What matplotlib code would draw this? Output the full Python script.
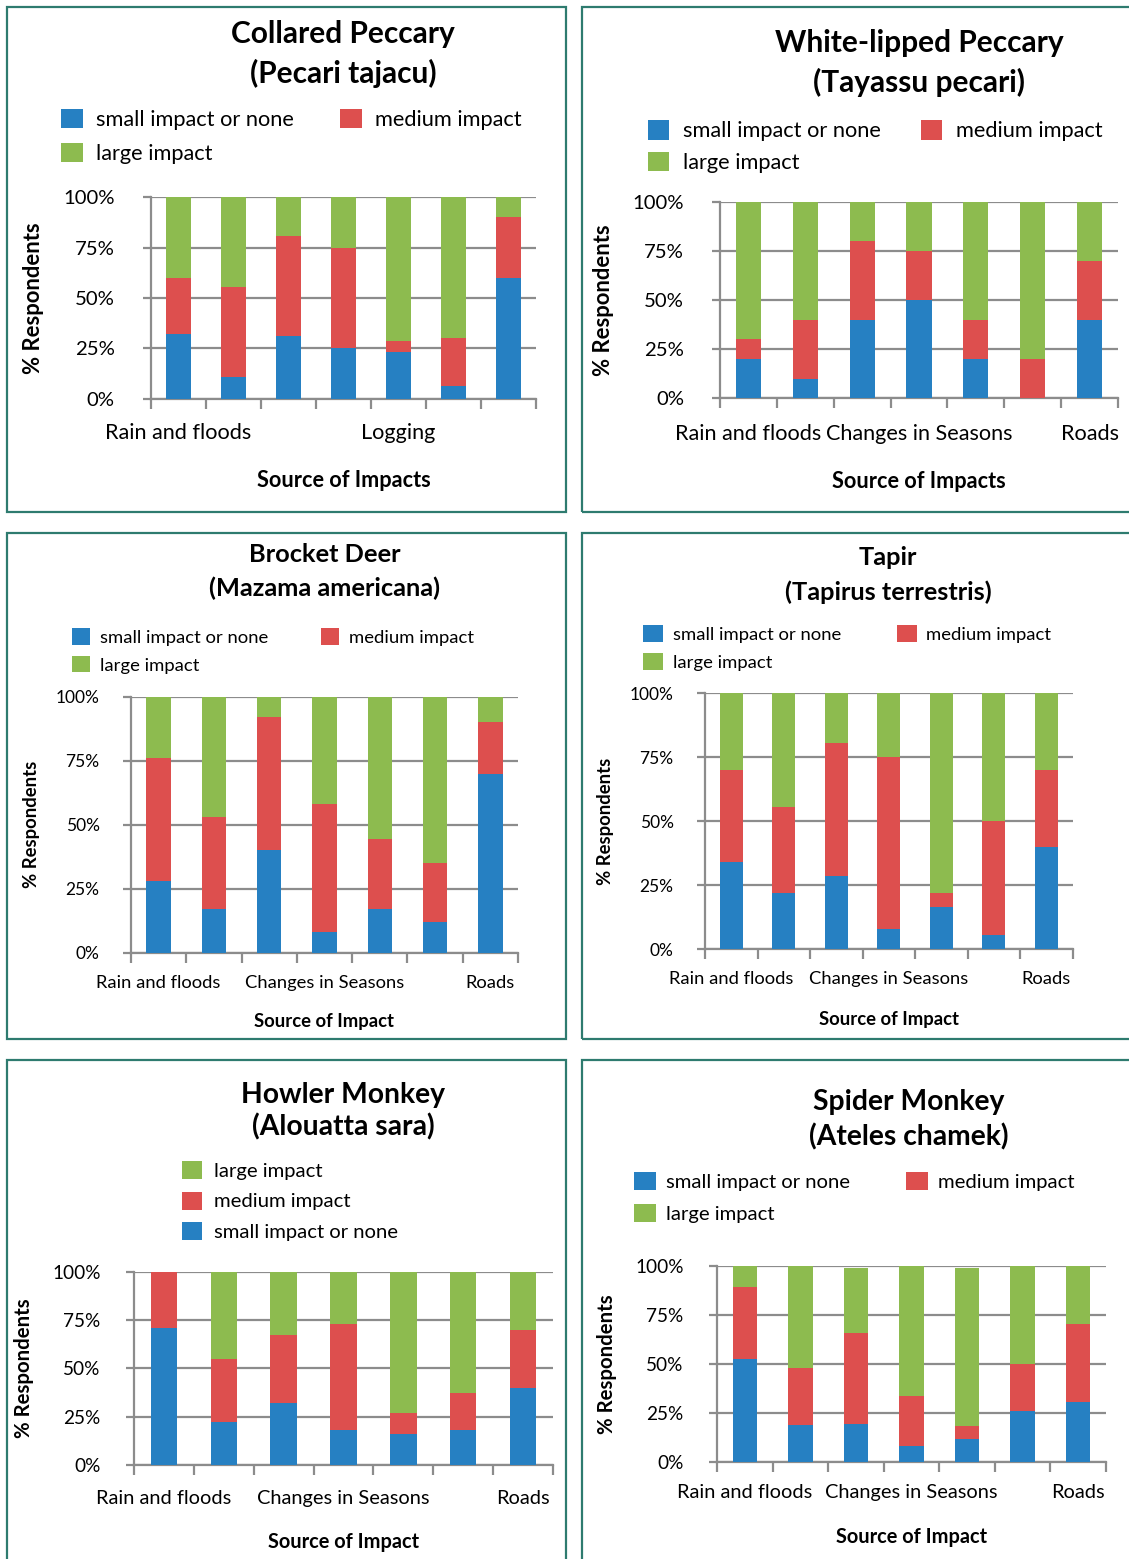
import numpy as np
import matplotlib
matplotlib.use("Agg")
import matplotlib.pyplot as plt
from matplotlib.patches import Rectangle

# Survey results: % of respondents per impact level, 7 impact sources
category_names = ["Rain and floods", "", "", "Changes in Seasons", "Logging", "", "Roads"]

collared_small = [32, 11, 31, 25, 23, 6.5, 60]
collared_medium = [28, 44.5, 50, 50, 5.5, 23.5, 30]
collared_large = [40, 44.5, 19, 25, 71.5, 70, 10]

whitelipped_small = [20, 10, 40, 50, 20, 0, 40]
whitelipped_medium = [10, 30, 40, 25, 20, 20, 30]
whitelipped_large = [70, 60, 20, 25, 60, 80, 30]

brocket_small = [28, 17, 40, 8, 17, 12, 70]
brocket_medium = [48, 36, 52, 50, 27.5, 23, 20]
brocket_large = [24, 47, 8, 42, 55.5, 65, 10]

tapir_small = [34, 22, 28.5, 8, 16.5, 5.5, 40]
tapir_medium = [36, 33.5, 52, 67, 5.5, 44.5, 30]
tapir_large = [30, 44.5, 19.5, 25, 78, 50, 30]

howler_small = [71, 22, 32, 18, 16, 18, 40]
howler_medium = [29, 33, 35.5, 55, 11, 19.5, 30]
howler_large = [0, 45, 32.5, 27, 73, 62.5, 30]

spider_small = [52.5, 18.5, 19, 8, 11.5, 26, 30.5]
spider_medium = [36.5, 29.5, 46.5, 25.5, 6.5, 24, 40]
spider_large = [11, 52, 33.5, 66.5, 81, 50, 29.5]

BLUE, RED, GREEN = "#2680C2", "#DD4F4E", "#8DBB4F"
GRID = "#8C8C8C"
FRAME = "#2E7B6F"

W, H = 1129, 1559
plt.rcParams["font.family"] = ["Lato", "DejaVu Sans"]
fig = plt.figure(figsize=(W / 100, H / 100), dpi=100)


def fx(x):
    return x / W


def fy(y):
    return 1 - y / H


# font size groups (pt): title, legend, xtick, ytick, xtitle, ylabel
BIG = dict(title=21.5, legend=15.7, xtick=15.6, ytick=14.6, xtitle=15.6, ylabel=15.8)
MID = dict(title=20.3, legend=14.6, xtick=14.4, ytick=13.7, xtitle=14.4, ylabel=14.7)
SMALL = dict(title=18.3, legend=13.3, xtick=13.2, ytick=12.5, xtitle=13.3, ylabel=13.3)

panels = [
    dict(title=("Collared Peccary", "(Pecari tajacu)"), small=collared_small,
         medium=collared_medium, large=collared_large, shown=[0, 4],
         xtitle="Source of Impacts", fs=BIG,
         frame=(7, 7, 566, 512), axes=(151, 197.3, 536, 398.7),
         title_x=343, title_y=(34, 73),
         leg=dict(x=61, y=136.5, pitch=33, w=22, h=21, pad=13, gap=46, ncol=2),
         ypad=28, xpad=24, xtitle_y=470, ylabel_x=44),
    dict(title=("White-lipped Peccary", "(Tayassu pecari)"), small=whitelipped_small,
         medium=whitelipped_medium, large=whitelipped_large, shown=[0, 3, 6],
         xtitle="Source of Impacts", fs=BIG,
         frame=(582, 7, 1140, 512), axes=(720, 201.7, 1118, 398.3),
         title_x=919, title_y=(43, 82),
         leg=dict(x=648, y=146.5, pitch=31, w=21, h=22, pad=14, gap=40, ncol=2),
         ypad=27.6, xpad=25.7, xtitle_y=471, ylabel_x=614),
    dict(title=("Brocket Deer", "(Mazama americana)"), small=brocket_small,
         medium=brocket_medium, large=brocket_large, shown=[0, 3, 6],
         xtitle="Source of Impact", fs=SMALL,
         frame=(7, 533, 566, 1039), axes=(131, 696.7, 518, 952.7),
         title_x=324.5, title_y=(555, 588),
         leg=dict(x=72, y=651, pitch=28, w=18, h=18, pad=10, gap=53, ncol=2),
         ypad=23, xpad=22, xtitle_y=1013, ylabel_x=39.5),
    dict(title=("Tapir", "(Tapirus terrestris)"), small=tapir_small,
         medium=tapir_medium, large=tapir_large, shown=[0, 3, 6],
         xtitle="Source of Impact", fs=SMALL,
         frame=(582, 533, 1140, 1039), axes=(705, 693.3, 1072.5, 949.3),
         title_x=888, title_y=(558, 592),
         leg=dict(x=643, y=648, pitch=28, w=20, h=19, pad=9.6, gap=56, ncol=2),
         ypad=23, xpad=21.4, xtitle_y=1011, ylabel_x=614),
    dict(title=("Howler Monkey", "(Alouatta sara)"), small=howler_small,
         medium=howler_medium, large=howler_large, shown=[0, 3, 6],
         xtitle="Source of Impact", fs=MID,
         frame=(7, 1060, 566, 1570), axes=(134, 1271.7, 553, 1465),
         title_x=343, title_y=(1095, 1127),
         leg=dict(x=182, y=1201, pitch=30.5, w=20, h=20, pad=12.5, gap=0, ncol=1),
         ypad=25, xpad=25, xtitle_y=1532, ylabel_x=33.5),
    dict(title=("Spider Monkey", "(Ateles chamek)"), small=spider_small,
         medium=spider_medium, large=spider_large, shown=[0, 3, 6],
         xtitle="Source of Impact", fs=MID,
         frame=(582, 1060, 1140, 1570), axes=(717, 1265.7, 1105.7, 1461.7),
         title_x=909, title_y=(1102, 1137),
         leg=dict(x=634, y=1197.5, pitch=31.7, w=21.5, h=20, pad=10.5, gap=56, ncol=2),
         ypad=25, xpad=22.3, xtitle_y=1527, ylabel_x=617),
]

for p in panels:
    fs = p["fs"]

    # panel frame
    x0, y0, x1, y1 = p["frame"]
    fig.add_artist(Rectangle((fx(x0), fy(y1)), (x1 - x0) / W, (y1 - y0) / H,
                             transform=fig.transFigure, fill=False,
                             edgecolor=FRAME, lw=1.6))

    # title, two lines
    for line, ty in zip(p["title"], p["title_y"]):
        fig.text(fx(p["title_x"]), fy(ty), line, ha="center", va="center",
                 fontsize=fs["title"], fontweight="bold")

    l, t, r, b = p["axes"]
    ax = fig.add_axes([fx(l), fy(b), (r - l) / W, (b - t) / H])
    x = np.arange(len(category_names))
    small = np.array(p["small"])
    medium = np.array(p["medium"])
    large = np.array(p["large"])
    bw = 0.44
    h_small = ax.bar(x, small, bw, color=BLUE, label="small impact or none", zorder=3)
    h_medium = ax.bar(x, medium, bw, bottom=small, color=RED, label="medium impact", zorder=3)
    h_large = ax.bar(x, large, bw, bottom=small + medium, color=GREEN, label="large impact", zorder=3)

    ax.set_xlim(-0.5, len(x) - 0.5)
    ax.set_ylim(0, 100)
    ax.set_yticks([0, 25, 50, 75, 100])
    ax.set_yticklabels(["0%", "25%", "50%", "75%", "100%"])
    ax.grid(axis="y", color=GRID, lw=1.6, zorder=0)
    ax.set_axisbelow(True)
    for s in ["top", "right"]:
        ax.spines[s].set_visible(False)
    for s in ["left", "bottom"]:
        ax.spines[s].set_color(GRID)
        ax.spines[s].set_linewidth(1.6)

    ax.set_xticks(np.arange(-0.5, len(x), 1))
    ax.set_xticklabels([])
    ax.set_xticks(p["shown"], minor=True)
    ax.set_xticklabels([category_names[i] for i in p["shown"]], minor=True)
    ax.tick_params(axis="x", which="major", length=7, width=1.6, color=GRID)
    ax.tick_params(axis="x", which="minor", length=0, pad=p["xpad"] * 0.72,
                   labelsize=fs["xtick"])
    ax.tick_params(axis="y", length=6, width=1.6, color=GRID,
                   pad=p["ypad"] * 0.72, labelsize=fs["ytick"])

    ax.set_xlabel(p["xtitle"], fontsize=fs["xtitle"], fontweight="bold")
    ax.xaxis.set_label_coords(fx((l + r) / 2), fy(p["xtitle_y"]), transform=fig.transFigure)
    ax.set_ylabel("% Respondents", fontsize=fs["ylabel"], fontweight="bold")
    ax.yaxis.set_label_coords(fx(p["ylabel_x"]), fy((t + b) / 2), transform=fig.transFigure)

    # legend
    lg = p["leg"]
    fpx = fs["legend"] / 0.72
    if lg["ncol"] == 2:
        handles = [h_small, h_large, h_medium]
    else:
        handles = [h_large, h_medium, h_small]
    ax.legend(handles=handles, labels=[h.get_label() for h in handles],
              loc="center left", bbox_to_anchor=(fx(lg["x"]), fy(lg["y"])),
              bbox_transform=fig.transFigure, ncol=lg["ncol"], frameon=False,
              borderpad=0, borderaxespad=0, fontsize=fs["legend"],
              handlelength=lg["w"] / fpx, handleheight=lg["h"] / fpx,
              handletextpad=lg["pad"] / fpx, columnspacing=lg["gap"] / fpx,
              labelspacing=(lg["pitch"] - 0.95 * fpx) / fpx)

fig.savefig("out.png", dpi=100)
